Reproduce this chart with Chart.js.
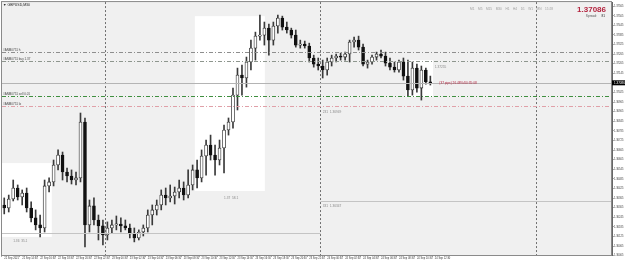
<!DOCTYPE html>
<html>
<head>
<meta charset="utf-8">
<script src="https://cdn.jsdelivr.net/npm/chart.js@4.4.1/dist/chart.umd.min.js"></script>
<style>
  html, body { margin: 0; padding: 0; background: #fff; }
  canvas { display: block; }
</style>
</head>
<body>
<canvas id="grafica" width="625" height="261"></canvas>
<script>
const simbolo = "GBPUSD,M30";
const precioActual = 1.37086;
const totalBarras = 136;

const aperturas = [
  1.36322, 1.36303, 1.36359, 1.36428, 1.36372, 1.36397, 1.36303, 1.36241, 1.36197, 1.36178,
  1.36441, 1.36466, 1.36572, 1.36634, 1.36528, 1.36503, 1.36478, 1.36491, 1.36841, 1.36197,
  1.36316, 1.36228, 1.36191, 1.36134, 1.36178, 1.36197, 1.36203, 1.36191, 1.36178, 1.36141,
  1.36116, 1.36153, 1.36178, 1.36259, 1.36291, 1.36322, 1.36384, 1.36366, 1.36378, 1.36403,
  1.36428, 1.36384, 1.36447, 1.36541, 1.36491, 1.36628, 1.36697, 1.36634, 1.36603, 1.36678,
  1.36791, 1.36841, 1.37009, 1.37134, 1.37116, 1.37216, 1.37303, 1.37378, 1.37384, 1.37428,
  1.37353, 1.37441, 1.37491, 1.37434, 1.37416, 1.37384, 1.37322, 1.37328, 1.37316, 1.37241,
  1.37203, 1.37191, 1.37166, 1.37216, 1.37241, 1.37253, 1.37247, 1.37266, 1.37341, 1.37353,
  1.37309, 1.37203, 1.37216, 1.37247, 1.37266, 1.37253, 1.37209, 1.37184, 1.37166, 1.37216,
  1.37128, 1.37041, 1.37178, 1.37053, 1.37166, 1.37091
];
const maximos = [
  1.36366, 1.36384, 1.36478, 1.36447, 1.36416, 1.36428, 1.36341, 1.36291, 1.36259, 1.36478,
  1.36491, 1.36603, 1.36666, 1.36653, 1.36553, 1.36541, 1.36528, 1.36897, 1.36866, 1.36353,
  1.36366, 1.36259, 1.36228, 1.36216, 1.36228, 1.36253, 1.36241, 1.36228, 1.36203, 1.36178,
  1.36166, 1.36197, 1.36291, 1.36322, 1.36353, 1.36416, 1.36428, 1.36447, 1.36434, 1.36478,
  1.36466, 1.36541, 1.36572, 1.36603, 1.36666, 1.36728, 1.36759, 1.36697, 1.36728, 1.36822,
  1.36866, 1.37053, 1.37178, 1.37197, 1.37247, 1.37353, 1.37403, 1.37509, 1.37466, 1.37453,
  1.37466, 1.37509, 1.37503, 1.37466, 1.37428, 1.37416, 1.37353, 1.37347, 1.37334, 1.37259,
  1.37241, 1.37228, 1.37241, 1.37259, 1.37266, 1.37272, 1.37278, 1.37353, 1.37372, 1.37378,
  1.37328, 1.37228, 1.37259, 1.37278, 1.37291, 1.37278, 1.37241, 1.37216, 1.37228, 1.37241,
  1.37228, 1.37216, 1.37203, 1.37191, 1.37178, 1.37128
];
const minimos = [
  1.36266, 1.36278, 1.36347, 1.36353, 1.36322, 1.36278, 1.36216, 1.36166, 1.36122, 1.36153,
  1.36403, 1.36441, 1.36541, 1.36478, 1.36466, 1.36453, 1.36447, 1.36466, 1.36059, 1.36153,
  1.36197, 1.36103, 1.36072, 1.36103, 1.36147, 1.36166, 1.36153, 1.36166, 1.36116, 1.36091,
  1.36103, 1.36128, 1.36153, 1.36197, 1.36259, 1.36291, 1.36322, 1.36341, 1.36328, 1.36366,
  1.36353, 1.36366, 1.36416, 1.36428, 1.36466, 1.36509, 1.36603, 1.36509, 1.36572, 1.36522,
  1.36759, 1.36803, 1.36916, 1.37009, 1.37059, 1.37166, 1.37228, 1.37353, 1.37322, 1.37259,
  1.37322, 1.37397, 1.37416, 1.37397, 1.37366, 1.37309, 1.37303, 1.37303, 1.37216, 1.37184,
  1.37166, 1.37116, 1.37134, 1.37191, 1.37216, 1.37228, 1.37228, 1.37216, 1.37309, 1.37291,
  1.37191, 1.37178, 1.37203, 1.37228, 1.37241, 1.37191, 1.37166, 1.37153, 1.37153, 1.37103,
  1.37003, 1.37009, 1.37028, 1.36978, 1.37078, 1.37072
];
const cierres = [
  1.36303, 1.36359, 1.36428, 1.36372, 1.36397, 1.36303, 1.36241, 1.36197, 1.36178, 1.36441,
  1.36466, 1.36572, 1.36634, 1.36528, 1.36503, 1.36478, 1.36491, 1.36841, 1.36197, 1.36316,
  1.36228, 1.36191, 1.36134, 1.36178, 1.36197, 1.36203, 1.36191, 1.36178, 1.36141, 1.36116,
  1.36153, 1.36178, 1.36259, 1.36291, 1.36322, 1.36384, 1.36366, 1.36378, 1.36403, 1.36428,
  1.36384, 1.36447, 1.36541, 1.36491, 1.36628, 1.36697, 1.36634, 1.36603, 1.36678, 1.36791,
  1.36841, 1.37009, 1.37134, 1.37116, 1.37216, 1.37303, 1.37378, 1.37384, 1.37428, 1.37353,
  1.37441, 1.37491, 1.37434, 1.37416, 1.37384, 1.37322, 1.37328, 1.37316, 1.37241, 1.37203,
  1.37191, 1.37166, 1.37216, 1.37241, 1.37253, 1.37247, 1.37266, 1.37341, 1.37353, 1.37309,
  1.37203, 1.37216, 1.37247, 1.37266, 1.37253, 1.37209, 1.37184, 1.37166, 1.37216, 1.37128,
  1.37041, 1.37178, 1.37053, 1.37166, 1.37091, 1.37086
];

// etiquetas del eje de tiempo (una cada 4 barras)
const etiquetasX = [
  "22 Sep 2021", "22 Sep 14:30", "22 Sep 16:30", "22 Sep 18:30", "22 Sep 20:30", "22 Sep 22:30",
  "23 Sep 00:30", "23 Sep 02:30", "23 Sep 04:30", "23 Sep 06:30", "23 Sep 08:30", "23 Sep 10:30",
  "23 Sep 12:30", "23 Sep 14:30", "23 Sep 16:30", "23 Sep 18:30", "23 Sep 20:30", "23 Sep 22:30",
  "24 Sep 00:30", "24 Sep 02:30", "24 Sep 04:30", "24 Sep 06:30", "24 Sep 08:30", "24 Sep 10:30",
  "24 Sep 12:30"
];
const ticksY = [
  1.37565, 1.37505, 1.37445, 1.37385, 1.37325, 1.37265, 1.37205, 1.37145, 1.37085, 1.37025,
  1.36965, 1.36905, 1.36845, 1.36785, 1.36725, 1.36665, 1.36605, 1.36545, 1.36485, 1.36425,
  1.36365, 1.36305, 1.36245, 1.36185, 1.36125, 1.36065, 1.36005
];

// niveles horizontales (lineas de ordenes)
const nivelesPrecio = [1.37280, 1.37222, 1.37003, 1.36942];
const nivelesTexto = ["#ANM0751 h", "#ANM0751 buy 1.37", "#ANM0751 sell 0.01", "#ANM0751 lo"];

// tramos horizontales (precio, barra inicio, barra fin)
const tramosPrecio = [1.36347, 1.36149];
const tramosDesde = [70.5, -0.5];
const tramosHasta = [135.5, 70.5];

// separadores de dia
const separadores = [22.5, 70.5, 118.5];

// zonas blancas
const zonasDesde = [-0.5, 42.5, 89.5];
const zonasHasta = [10.6, 58.1, 95.6];
const zonasAlto = [1.36584, 1.37503, 1.37228];
const zonasBajo = [1.36122, 1.36409, 1.36997];

const canvas = document.getElementById("grafica");

const mechas = minimos.map((l, i) => [l, maximos[i]]);
const cuerpos = aperturas.map((o, i) => [o, cierres[i]]);
const sube = cierres.map((c, i) => c >= aperturas[i]);

const dibujos = {
  id: "dibujos",
  beforeDraw(chart) {
    const { ctx, chartArea: a, scales: { x, y } } = chart;
    ctx.save();
    ctx.fillStyle = "#ffffff";
    ctx.fillRect(0, 0, chart.width, chart.height);
    ctx.fillStyle = "#f0f0f0";
    ctx.fillRect(a.left, a.top, a.right - a.left, a.bottom - a.top);
    ctx.fillStyle = "#ffffff";
    zonasDesde.forEach((d, i) => {
      const x1 = Math.max(a.left, x.getPixelForValue(d));
      const x2 = x.getPixelForValue(zonasHasta[i]);
      const y1 = y.getPixelForValue(zonasAlto[i]);
      const y2 = y.getPixelForValue(zonasBajo[i]);
      ctx.fillRect(x1, y1, x2 - x1, y2 - y1);
    });
    ctx.restore();
  },
  afterDatasetsDraw(chart) {
    const { ctx, chartArea: a, scales: { x, y } } = chart;
    ctx.save();
    ctx.lineWidth = 1;

    // separadores verticales
    ctx.strokeStyle = "#707070";
    ctx.setLineDash([2, 2]);
    separadores.forEach(s => {
      const px = Math.round(x.getPixelForValue(s)) + 0.5;
      ctx.beginPath();
      ctx.moveTo(px, a.top);
      ctx.lineTo(px, a.bottom);
      ctx.stroke();
    });

    // tramos
    ctx.setLineDash([]);
    ctx.strokeStyle = "#c4c4c4";
    tramosPrecio.forEach((p, i) => {
      const py = Math.round(y.getPixelForValue(p)) + 0.5;
      ctx.beginPath();
      ctx.moveTo(Math.max(a.left, x.getPixelForValue(tramosDesde[i])), py);
      ctx.lineTo(Math.min(a.right, x.getPixelForValue(tramosHasta[i])), py);
      ctx.stroke();
    });

    // linea del precio actual
    const pyAct = Math.round(y.getPixelForValue(precioActual)) + 0.5;
    ctx.strokeStyle = "#b4b4b4";
    ctx.beginPath();
    ctx.moveTo(a.left, pyAct);
    ctx.lineTo(a.right, pyAct);
    ctx.stroke();

    // niveles de ordenes
    const coloresNivel = ["#8e8e8e", "#8e968e", "#3f8f3f", "#e0a0a8"];
    ctx.setLineDash([4, 2, 1, 2]);
    nivelesPrecio.forEach((p, i) => {
      const py = Math.round(y.getPixelForValue(p)) + 0.5;
      ctx.strokeStyle = coloresNivel[i];
      ctx.beginPath();
      ctx.moveTo(a.left, py);
      ctx.lineTo(a.right, py);
      ctx.stroke();
    });
    ctx.setLineDash([]);

    ctx.font = "3px Arial";
    ctx.textBaseline = "bottom";
    ctx.fillStyle = "#444";
    nivelesPrecio.forEach((p, i) => {
      ctx.fillText(nivelesTexto[i], a.left + 1, y.getPixelForValue(p) - 0.5);
    });

    // marco
    ctx.strokeStyle = "#8a8a8a";
    ctx.strokeRect(a.left - 0.5, a.top - 0.5, a.right - a.left, a.bottom - a.top + 1);
    ctx.restore();
  },
  afterDraw(chart) {
    const { ctx, chartArea: a, scales: { x, y } } = chart;
    ctx.save();
    // caja del precio actual en el eje
    const py = y.getPixelForValue(precioActual);
    ctx.fillStyle = "#000";
    ctx.fillRect(a.right, py - 2.5, chart.width - a.right, 5);
    ctx.fillStyle = "#fff";
    ctx.font = "3px Arial";
    ctx.textBaseline = "middle";
    ctx.fillText(precioActual.toFixed(5), a.right + 2, py);

    // textos de cabecera
    ctx.textBaseline = "alphabetic";
    ctx.fillStyle = "#222";
    ctx.font = "3.5px Arial";
    ctx.fillText("\u25BC " + simbolo, a.left + 1, 6);

    ctx.fillStyle = "#a0a0a0";
    ctx.font = "3.2px Arial";
    ctx.fillText("M1    M5    M15    M30    H1    H4    D1    W1    MN    15:28", 470, 10);

    ctx.textAlign = "right";
    ctx.fillStyle = "#b3243f";
    ctx.font = "bold 8px Arial";
    ctx.fillText(precioActual.toFixed(5), 606, 12);
    ctx.fillStyle = "#555";
    ctx.font = "3.2px Arial";
    ctx.fillText("Spread:", 597, 16.5);
    ctx.fillStyle = "#222";
    ctx.fillText("81", 605, 16.5);
    ctx.textAlign = "left";

    // texto rojo de la orden
    ctx.fillStyle = "#b3243f";
    ctx.font = "3.2px Arial";
    ctx.fillText("(37 pips) 26.48%/00:35:08", x.getPixelForValue(97), py + 1);

    // pequeñas anotaciones grises
    ctx.fillStyle = "#8a8a8a";
    ctx.fillText("1.37255", x.getPixelForValue(96), y.getPixelForValue(1.37180));
    ctx.fillText("231  1.36949", x.getPixelForValue(71), y.getPixelForValue(1.36900));
    ctx.fillText("331  1.36347", x.getPixelForValue(71), y.getPixelForValue(1.36310));
    ctx.fillText("1.37  58.1", x.getPixelForValue(49), y.getPixelForValue(1.36360));
    ctx.fillText("1.36  35.1", x.getPixelForValue(2), y.getPixelForValue(1.36090));
    ctx.restore();
  }
};

new Chart(canvas, {
  type: "bar",
  data: {
    labels: Array.from({ length: totalBarras }, (_, i) => i),
    datasets: [
      {
        label: "cuerpos",
        data: cuerpos,
        backgroundColor: sube.map(s => s ? "#ffffff" : "#111111"),
        borderColor: sube.map(s => s ? "#2a2a2a" : "#111111"),
        borderWidth: 0.8,
        borderSkipped: false,
        barThickness: 3,
        minBarLength: 1,
        grouped: false,
        order: 0
      },
      {
        label: "mechas",
        data: mechas,
        backgroundColor: "#3a3a3a",
        borderWidth: 0,
        barThickness: 1,
        grouped: false,
        order: 1
      }
    ]
  },
  options: {
    responsive: false,
    animation: false,
    devicePixelRatio: 1,
    layout: { padding: { left: 2, top: 2, right: 0, bottom: 0 } },
    plugins: { legend: { display: false }, tooltip: { enabled: false } },
    scales: {
      x: {
        type: "category",
        offset: true,
        grid: {
          drawOnChartArea: false,
          drawTicks: true,
          tickLength: 1.5,
          color: c => (c.index % 4 === 0 && c.index / 4 < etiquetasX.length) ? "#555" : "rgba(0,0,0,0)"
        },
        border: { display: true, color: "#666" },
        ticks: {
          autoSkip: false,
          maxRotation: 0,
          minRotation: 0,
          align: "start",
          padding: 0.5,
          color: "#333",
          font: { size: 2.6, family: "Arial" },
          callback: (v, i) => (i % 4 === 0 && etiquetasX[i / 4]) ? etiquetasX[i / 4] : ""
        },
        afterFit: s => { s.height = 6; }
      },
      y: {
        position: "right",
        min: 1.36009,
        max: 1.37591,
        afterBuildTicks: s => { s.ticks = ticksY.map(v => ({ value: v })); },
        grid: { drawOnChartArea: false, drawTicks: true, tickLength: 1.5, color: "#555" },
        border: { display: true, color: "#666" },
        ticks: {
          autoSkip: false,
          padding: 0.5,
          color: "#333",
          font: { size: 2.6, family: "Arial" },
          callback: v => Number(v).toFixed(5)
        },
        afterFit: s => { s.width = 13; }
      }
    }
  },
  plugins: [dibujos]
});
</script>
</body>
</html>
